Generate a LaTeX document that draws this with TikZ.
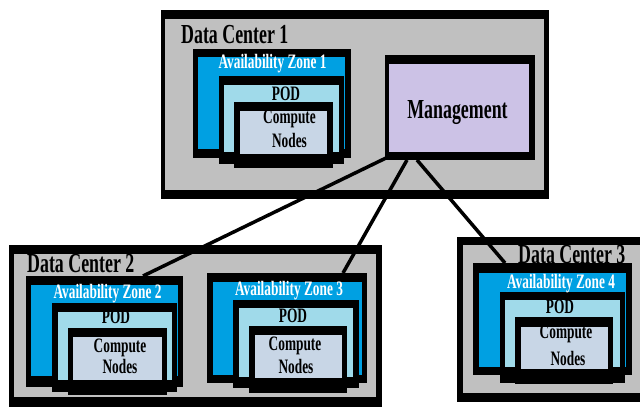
\documentclass[tikz,border=0pt]{standalone}
\usepackage{fontspec}
\newfontfamily\lblfont[FakeStretch=0.65]{Liberation Serif}
\usetikzlibrary{fit,calc}
\definecolor{dcgray}{RGB}{192,192,192}
\definecolor{azblue}{RGB}{0,160,226}
\definecolor{podblue}{RGB}{160,218,234}
\definecolor{cnfill}{RGB}{200,214,230}
\definecolor{mgmtfill}{RGB}{204,194,230}

\begin{document}
\begin{tikzpicture}[x=1pt,y=-1pt,
  edge/.style={fill=black, inner sep=0pt, outer sep=0pt},
  face/.style={inner sep=0pt, outer sep=0pt},
  bigtxt/.style={font=\lblfont\bfseries\fontsize{27.5}{30}\selectfont, inner sep=0pt},
  smalltxt/.style={font=\lblfont\bfseries\fontsize{20.5}{22}\selectfont, inner sep=0pt},
  aztxt/.style={smalltxt, text=white},
  link/.style={line width=3.5pt}]

\useasboundingbox (0,0) rectangle (640,408);
\fill[white] (0,0) rectangle (640,408);
\clip (0,0) rectangle (640,408);

% ---------- Data Center 1 ----------
\node[edge, fit={(161,10) (549,199)}] (dc1) {};
\node[face, fill=dcgray, fit={(165,19) (544,190)}] (dc1in) {};
\node[bigtxt, anchor=base west] (dc1t) at (181,43) {Data Center 1};

\node[edge, fit={(193,49) (351,158)}] (az1) {};
\node[face, fill=azblue, fit={(198,57) (345,149)}] (az1in) {};
\node[edge, fit={(219,76) (344,164)}] (pod1) {};
\node[face, fill=podblue, fit={(224,85) (339,152)}] (pod1in) {};
\node[edge, fit={(234,102) (333,168)}] (cn1) {};
\node[face, fill=cnfill, fit={(240,111) (327,154)}] (cn1in) {};
\node[aztxt, anchor=base] (az1t) at (272.5,68) {Availability Zone 1};
\node[smalltxt, anchor=base] (pod1t) at (286,100) {POD};
\node[smalltxt, anchor=base] (cn1a) at (289.5,123) {Compute};
\node[smalltxt, anchor=base] (cn1b) at (289.5,147) {Nodes};

\node[edge, fit={(385,55) (535,160)}] (mgmt) {};
\node[face, fill=mgmtfill, fit={(389,64) (529,152)}] (mgmtin) {};
\node[bigtxt, anchor=base] (mgmtt) at (457.5,118) {Management};

% ---------- Data Center 2 ----------
\node[edge, fit={(9,245) (382,407)}] (dc2) {};
\node[face, fill=dcgray, fit={(14,254) (376,397)}] (dc2in) {};
\node[bigtxt, anchor=base west] (dc2t) at (27,272) {Data Center 2};

\node[edge, fit={(26,276) (183,387)}] (az2) {};
\node[face, fill=azblue, fit={(31,285) (178,376)}] (az2in) {};
\node[edge, fit={(52,303) (177,392)}] (pod2) {};
\node[face, fill=podblue, fit={(58,312) (172,380)}] (pod2in) {};
\node[edge, fit={(68,328) (167,395)}] (cn2) {};
\node[face, fill=cnfill, fit={(73,337) (162,380)}] (cn2in) {};
\node[aztxt, anchor=base] (az2t) at (107.5,298) {Availability Zone 2};
\node[smalltxt, anchor=base] (pod2t) at (116,323) {POD};
\node[smalltxt, anchor=base] (cn2a) at (120,352) {Compute};
\node[smalltxt, anchor=base] (cn2b) at (120,373) {Nodes};

\node[edge, fit={(207,273) (367,383)}] (az3) {};
\node[face, fill=azblue, fit={(213,282) (362,375)}] (az3in) {};
\node[edge, fit={(233,300) (359,388)}] (pod3) {};
\node[face, fill=podblue, fit={(239,308) (353,377)}] (pod3in) {};
\node[edge, fit={(249,326) (347,393)}] (cn3) {};
\node[face, fill=cnfill, fit={(255,335) (342,378)}] (cn3in) {};
\node[aztxt, anchor=base] (az3t) at (289,295) {Availability Zone 3};
\node[smalltxt, anchor=base] (pod3t) at (293,322) {POD};
\node[smalltxt, anchor=base] (cn3a) at (295,350) {Compute};
\node[smalltxt, anchor=base] (cn3b) at (296,373) {Nodes};

% ---------- Data Center 3 ----------
\node[edge, fit={(457,237) (660,402)}] (dc3) {};
\node[face, fill=dcgray, fit={(463,245) (660,393)}] (dc3in) {};
\node[bigtxt, anchor=base west] (dc3t) at (518,263) {Data Center 3};

\node[edge, fit={(473,263) (632,375)}] (az4) {};
\node[face, fill=azblue, fit={(479,273) (626,367)}] (az4in) {};
\node[edge, fit={(500,292) (625,383)}] (pod4) {};
\node[face, fill=podblue, fit={(505,300) (620,367)}] (pod4in) {};
\node[edge, fit={(515,317) (613,384)}] (cn4) {};
\node[face, fill=cnfill, fit={(521,327) (608,369)}] (cn4in) {};
\node[aztxt, anchor=base] (az4t) at (561,288) {Availability Zone 4};
\node[smalltxt, anchor=base] (pod4t) at (560,313) {POD};
\node[smalltxt, anchor=base] (cn4a) at (566,338) {Compute};
\node[smalltxt, anchor=base] (cn4b) at (568,365) {Nodes};

% ---------- links from the management box ----------
\draw[link] ($(mgmt.south west)+(1,-2)$) -- ($(az2.north west)+(117,0)$);
\draw[link] ($(mgmt.south west)+(22,0)$) -- ($(az3.north west)+(136,0)$);
\draw[link] ($(mgmt.south west)+(32,0)$) -- ($(az4.north west)+(32,0)$);

\end{tikzpicture}
\end{document}
